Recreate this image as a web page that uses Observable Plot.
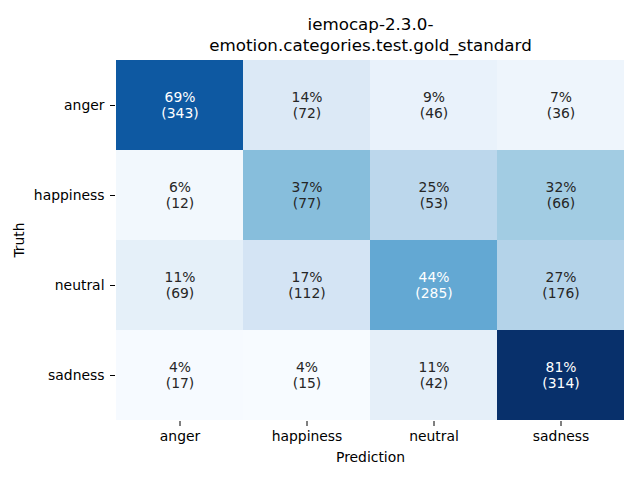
<!DOCTYPE html>
<html>
<head>
<meta charset="utf-8">
<script src="https://cdn.jsdelivr.net/npm/d3@7"></script>
<script src="https://cdn.jsdelivr.net/npm/@observablehq/plot@0.6"></script>
<style>
  html, body { margin: 0; padding: 0; background: white; }
</style>
</head>
<body>
<div id="chart"></div>
<script>
const titleText = "iemocap-2.3.0-\nemotion.categories.test.gold_standard";
const categories = ["anger", "happiness", "neutral", "sadness"];
// counts per truth row (columns = prediction categories)
const angerRow = [343, 72, 46, 36];
const happinessRow = [12, 77, 53, 66];
const neutralRow = [69, 112, 285, 176];
const sadnessRow = [17, 15, 42, 314];
const rows = [angerRow, happinessRow, neutralRow, sadnessRow];

// matplotlib "Blues" colormap anchors
const bluesStops = ["#f7fbff","#deebf7","#c6dbef","#9ecae1","#6baed6","#4292c6","#2171b5","#08519c","#08306b"];
const blues = d3.piecewise(d3.interpolateRgb, bluesStops);

const cells = [];
rows.forEach((r, i) => {
  const total = d3.sum(r);
  r.forEach((c, j) => {
    cells.push({truth: categories[i], pred: categories[j], count: c, pct: 100 * c / total});
  });
});
const pMin = d3.min(cells, d => d.pct), pMax = d3.max(cells, d => d.pct);
const colorOf = p => blues((p - pMin) / (pMax - pMin));
function lum(col) {
  const c = d3.rgb(col);
  const f = v => { v /= 255; return v <= 0.03928 ? v / 12.92 : Math.pow((v + 0.055) / 1.055, 2.4); };
  return 0.2126 * f(c.r) + 0.7152 * f(c.g) + 0.0722 * f(c.b);
}

const chart = Plot.plot({
  width: 640,
  height: 480,
  marginLeft: 115,
  marginRight: 15,
  marginTop: 58,
  marginBottom: 59,
  style: {fontFamily: "DejaVu Sans, sans-serif", fontSize: "13.9px", color: "black", background: "white"},
  x: {domain: categories, padding: 0},
  y: {domain: categories, padding: 0},
  color: {type: "linear", domain: [pMin, pMax], interpolate: t => blues(t)},
  marks: [
    Plot.cell(cells, {x: "pred", y: "truth", fill: "pct", inset: 0}),
    Plot.text(cells, {
      x: "pred", y: "truth",
      text: d => `${Math.round(d.pct)}%\n(${d.count})`,
      fill: d => lum(colorOf(d.pct)) > 0.408 ? "#262626" : "white",
      fontSize: 13.9, lineHeight: 1.15, lineAnchor: "middle", dy: -1
    }),
    Plot.axisX({anchor: "bottom", tickSize: 5, tickPadding: 5, label: "Prediction", labelAnchor: "center", labelArrow: "none", labelOffset: 40, fontSize: 13.9}),
    Plot.axisY({anchor: "left", tickSize: 5, tickPadding: 6, label: "Truth", labelAnchor: "center", labelArrow: "none", labelOffset: 101, fontSize: 13.9}),
    Plot.text([titleText], {frameAnchor: "top", dy: -8, lineAnchor: "bottom", lineHeight: 1.2, fontSize: 16.7, fill: "black"})
  ]
});
document.getElementById("chart").appendChild(chart);
</script>
</body>
</html>
